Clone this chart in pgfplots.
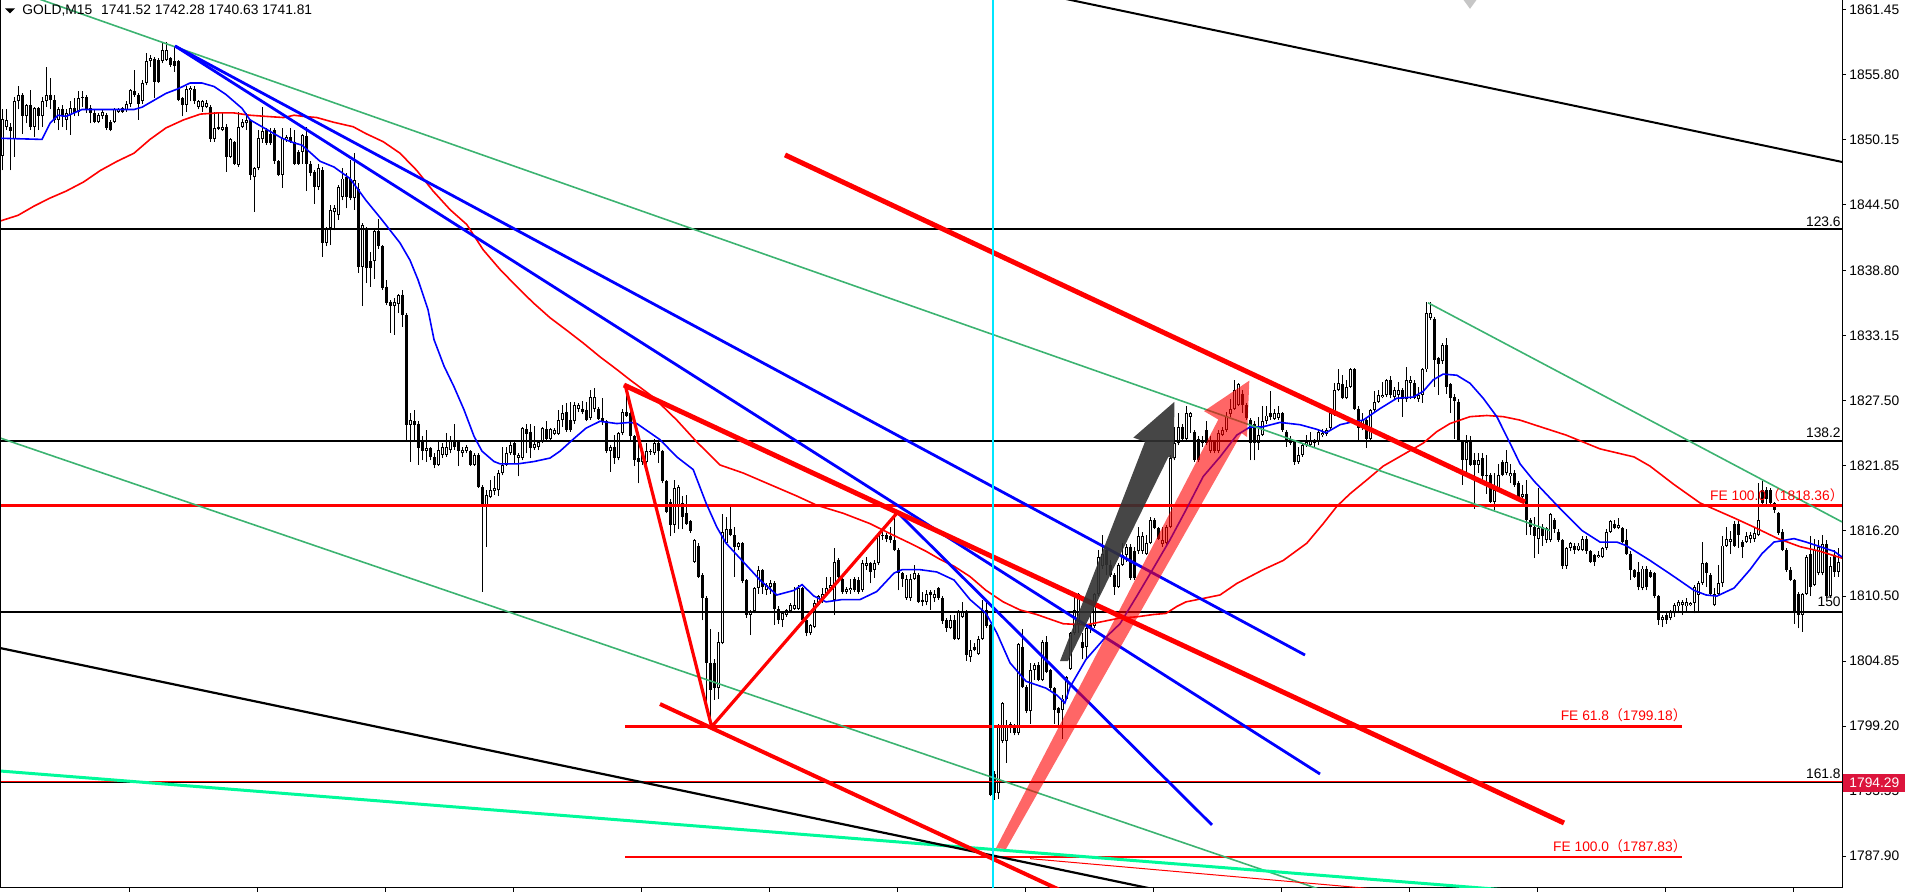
\documentclass[border=0pt]{standalone}
\usepackage{pgfplots}
\usepackage{pgfplotstable}
\pgfplotsset{compat=1.18}
\usepackage{fontspec}
\setmainfont{Liberation Sans}
\newfontfamily\cjk{Noto Sans CJK SC}
\definecolor{mtgreen}{RGB}{60,179,113}
\definecolor{mint}{RGB}{0,250,154}
\definecolor{crim}{RGB}{220,20,60}
\definecolor{arrgray}{RGB}{50,50,50}
\definecolor{mtcyan}{RGB}{0,230,255}
\newcommand{\mtf}{\fontsize{6.9}{8.3}\selectfont}
\newcommand{\lp}{{\cjk （}}
\newcommand{\rp}{{\cjk ）}}

\pgfplotstableread{
i o h l c
0 1848.8 1852.8 1847.5 1852.0
1 1851.3 1852.8 1851.0 1851.9
2 1851.3 1851.6 1847.5 1850.9
3 1850.2 1853.9 1848.7 1853.5
4 1853.5 1854.8 1852.8 1854.1
5 1854.1 1854.2 1850.7 1852.2
6 1852.2 1853.3 1851.6 1853.2
7 1853.2 1854.5 1851.0 1851.3
8 1851.3 1853.0 1850.4 1852.9
9 1852.9 1853.0 1851.0 1852.2
10 1852.2 1853.9 1851.3 1853.5
11 1853.5 1856.5 1853.0 1854.1
12 1854.1 1855.5 1852.8 1853.6
13 1853.6 1854.1 1851.6 1851.9
14 1851.9 1853.0 1851.0 1852.8
15 1852.8 1853.2 1851.3 1852.2
16 1851.9 1852.8 1851.0 1852.5
17 1852.3 1853.5 1850.6 1852.9
18 1852.9 1853.8 1852.2 1852.5
19 1852.6 1854.4 1852.2 1853.8
20 1853.8 1854.4 1853.0 1853.9
21 1853.9 1854.1 1852.5 1852.8
22 1852.9 1853.2 1851.6 1852.5
23 1852.5 1852.8 1851.6 1851.7
24 1851.7 1852.5 1851.6 1852.3
25 1852.2 1852.8 1852.0 1852.6
26 1852.3 1852.5 1851.0 1851.2
27 1851.7 1851.9 1850.9 1851.0
28 1851.7 1852.9 1851.6 1852.8
29 1852.6 1852.9 1852.5 1852.8
30 1852.9 1853.0 1852.5 1852.6
31 1852.8 1853.5 1852.6 1853.3
32 1853.3 1854.6 1853.0 1854.5
33 1854.4 1856.2 1853.9 1854.1
34 1854.1 1854.2 1851.9 1853.3
35 1853.5 1855.4 1853.3 1855.1
36 1855.1 1857.7 1854.9 1857.0
37 1857.0 1857.5 1856.5 1857.3
38 1857.2 1857.4 1853.8 1855.2
39 1857.1 1857.3 1855.1 1855.2
40 1857.0 1858.7 1856.8 1858.0
41 1857.1 1858.7 1857.0 1858.0
42 1857.3 1857.4 1856.5 1856.7
43 1857.0 1858.3 1856.1 1856.6
44 1857.0 1857.1 1853.5 1853.6
45 1853.8 1853.9 1852.2 1853.2
46 1853.2 1854.8 1852.6 1854.6
47 1854.5 1854.8 1853.5 1854.7
48 1854.6 1854.8 1853.3 1853.5
49 1853.0 1853.6 1852.8 1853.5
50 1853.0 1853.6 1852.6 1853.5
51 1853.0 1853.6 1852.9 1853.4
52 1853.0 1853.2 1850.0 1850.2
53 1850.2 1852.6 1850.0 1851.2
54 1851.3 1852.6 1851.0 1851.1
55 1851.0 1852.5 1850.9 1851.3
56 1851.3 1851.5 1847.4 1848.7
57 1848.7 1850.3 1848.6 1850.2
58 1850.0 1850.1 1848.0 1848.1
59 1848.0 1852.6 1847.8 1851.3
60 1851.3 1852.0 1851.2 1851.7
61 1851.6 1852.5 1851.0 1851.9
62 1851.9 1852.0 1846.7 1847.1
63 1846.9 1847.8 1843.9 1847.7
64 1847.7 1851.0 1847.5 1850.3
65 1850.2 1853.0 1849.9 1850.9
66 1851.0 1851.2 1849.7 1849.9
67 1850.7 1851.2 1849.7 1849.9
68 1851.0 1851.2 1848.1 1848.3
69 1848.3 1848.4 1847.0 1847.1
70 1847.1 1851.2 1846.0 1850.3
71 1850.2 1850.6 1850.0 1850.4
72 1850.4 1851.2 1849.9 1850.0
73 1850.0 1851.0 1848.0 1848.1
74 1849.1 1849.3 1848.0 1848.1
75 1849.1 1850.7 1848.1 1850.6
76 1850.5 1851.3 1845.7 1848.1
77 1848.1 1848.3 1847.0 1847.3
78 1847.4 1847.5 1844.6 1846.1
79 1846.1 1848.1 1845.8 1847.7
80 1847.5 1847.8 1840.0 1841.2
81 1841.2 1842.6 1840.9 1842.5
82 1842.5 1844.5 1841.0 1844.1
83 1843.9 1844.5 1842.3 1844.2
84 1843.6 1846.2 1843.2 1846.1
85 1845.2 1847.7 1844.9 1846.8
86 1846.9 1847.3 1844.2 1845.2
87 1846.8 1848.4 1844.9 1845.1
88 1845.1 1849.0 1844.1 1846.7
89 1845.9 1846.4 1838.6 1839.1
90 1839.1 1842.9 1835.7 1842.8
91 1842.3 1842.6 1837.7 1839.0
92 1839.6 1840.4 1837.4 1839.0
93 1839.6 1842.3 1838.1 1842.2
94 1842.2 1843.3 1840.7 1840.9
95 1840.9 1841.0 1837.1 1837.3
96 1837.4 1838.0 1835.8 1836.0
97 1836.1 1836.2 1833.4 1835.7
98 1835.7 1836.4 1833.2 1836.1
99 1835.9 1836.8 1835.1 1836.7
100 1836.7 1837.1 1833.9 1834.9
101 1834.9 1835.1 1824.1 1825.4
102 1825.4 1826.4 1822.2 1825.8
103 1825.7 1826.7 1824.1 1825.4
104 1825.5 1825.7 1821.9 1823.4
105 1824.0 1824.4 1822.3 1823.1
106 1823.1 1824.9 1822.2 1823.4
107 1823.4 1823.5 1822.3 1822.6
108 1822.6 1822.9 1821.6 1821.9
109 1821.9 1824.1 1821.8 1823.2
110 1822.8 1823.8 1822.5 1823.5
111 1822.8 1824.7 1822.6 1823.5
112 1823.2 1824.4 1822.9 1824.1
113 1823.9 1825.5 1823.2 1823.5
114 1823.9 1824.1 1821.8 1823.1
115 1822.9 1823.5 1822.6 1823.2
116 1823.1 1823.6 1822.9 1823.5
117 1823.1 1823.2 1821.8 1821.9
118 1821.9 1822.9 1821.8 1822.8
119 1822.8 1822.9 1819.9 1820.0
120 1820.0 1820.2 1810.9 1818.4
121 1818.4 1819.7 1814.8 1819.3
122 1819.1 1820.6 1819.0 1819.7
123 1819.6 1820.9 1819.3 1819.9
124 1819.7 1821.5 1819.2 1821.2
125 1821.2 1823.5 1821.0 1821.9
126 1821.9 1823.5 1821.8 1822.9
127 1822.9 1823.9 1822.8 1823.6
128 1823.8 1823.9 1822.0 1822.8
129 1822.5 1822.9 1820.9 1822.8
130 1822.5 1825.2 1822.3 1825.1
131 1825.0 1825.5 1822.9 1824.6
132 1824.8 1825.5 1822.5 1823.4
133 1823.4 1825.3 1823.2 1823.7
134 1823.5 1824.1 1823.2 1823.9
135 1823.9 1825.2 1823.8 1825.1
136 1825.0 1825.7 1823.9 1824.2
137 1824.2 1825.1 1823.9 1825.0
138 1824.6 1825.1 1824.5 1824.9
139 1824.6 1826.7 1824.5 1825.8
140 1825.8 1827.1 1825.2 1826.4
141 1826.5 1827.3 1824.8 1824.9
142 1825.8 1827.4 1824.8 1824.9
143 1825.7 1827.4 1825.5 1827.1
144 1826.8 1827.3 1826.5 1827.1
145 1826.8 1827.5 1826.3 1826.5
146 1826.7 1827.4 1825.7 1825.8
147 1826.0 1828.4 1825.8 1827.8
148 1826.8 1828.6 1826.5 1827.8
149 1826.8 1826.9 1825.8 1825.9
150 1826.0 1827.7 1825.4 1825.7
151 1825.7 1825.8 1822.9 1823.1
152 1823.1 1823.6 1821.3 1823.5
153 1823.5 1824.5 1822.0 1822.5
154 1822.5 1824.8 1822.3 1824.7
155 1824.7 1826.8 1824.5 1826.5
156 1826.5 1828.9 1826.1 1826.2
157 1826.4 1827.3 1824.1 1824.4
158 1824.4 1824.5 1821.8 1822.3
159 1822.5 1824.1 1820.3 1822.2
160 1822.2 1822.9 1821.9 1822.8
161 1822.2 1823.8 1821.9 1823.1
162 1823.0 1823.3 1822.8 1823.1
163 1822.9 1824.2 1822.8 1823.8
164 1823.8 1824.1 1822.1 1823.1
165 1823.1 1823.2 1820.3 1820.5
166 1820.5 1820.6 1817.7 1817.8
167 1818.7 1818.9 1815.7 1816.7
168 1816.7 1820.6 1816.0 1819.9
169 1818.3 1820.2 1816.3 1820.0
170 1818.6 1819.2 1816.3 1817.4
171 1817.7 1819.3 1816.7 1816.8
172 1817.0 1817.1 1816.0 1816.2
173 1813.5 1815.5 1813.4 1815.4
174 1814.9 1815.1 1812.1 1812.2
175 1812.3 1812.5 1808.4 1810.3
176 1810.3 1810.5 1800.5 1804.7
177 1804.7 1807.6 1799.2 1802.3
178 1804.7 1805.0 1801.5 1802.5
179 1802.5 1807.4 1801.6 1806.5
180 1806.4 1817.6 1806.3 1816.1
181 1815.1 1817.4 1815.0 1816.3
182 1816.3 1818.4 1815.7 1815.8
183 1815.8 1816.5 1812.2 1814.8
184 1814.8 1815.2 1814.5 1815.1
185 1815.1 1815.2 1811.6 1811.8
186 1811.9 1812.0 1808.6 1808.9
187 1808.9 1809.3 1807.1 1809.2
188 1809.2 1811.3 1809.0 1811.2
189 1811.2 1813.1 1810.7 1812.8
190 1812.8 1812.9 1810.7 1811.3
191 1811.0 1811.6 1810.6 1811.5
192 1811.3 1811.9 1810.7 1811.6
193 1811.6 1811.8 1808.0 1809.4
194 1809.4 1809.6 1808.1 1808.4
195 1808.4 1809.2 1807.8 1809.0
196 1808.9 1809.4 1808.7 1809.3
197 1809.2 1809.9 1809.0 1809.7
198 1809.4 1811.3 1809.3 1809.7
199 1809.4 1811.5 1809.3 1811.2
200 1811.2 1811.3 1808.3 1808.4
201 1808.4 1808.6 1807.0 1807.3
202 1807.3 1808.1 1807.1 1808.0
203 1807.8 1810.2 1807.7 1809.9
204 1809.7 1810.6 1809.6 1810.5
205 1810.2 1811.2 1809.9 1810.7
206 1810.7 1812.2 1810.5 1811.2
207 1811.2 1812.2 1811.0 1811.5
208 1810.2 1814.7 1808.9 1813.5
209 1813.6 1813.8 1811.6 1812.2
210 1812.0 1812.2 1810.7 1810.9
211 1810.9 1811.3 1810.7 1811.1
212 1811.0 1812.0 1810.7 1811.2
213 1812.0 1812.2 1810.9 1811.0
214 1811.9 1812.2 1810.7 1810.9
215 1811.0 1813.6 1810.9 1813.4
216 1813.1 1813.9 1812.8 1813.4
217 1813.4 1813.5 1811.6 1812.6
218 1812.8 1813.6 1812.1 1813.4
219 1813.4 1816.1 1813.2 1815.8
220 1815.7 1816.4 1815.4 1815.8
221 1815.8 1816.0 1815.2 1815.5
222 1815.7 1816.5 1815.1 1815.4
223 1815.4 1817.7 1814.4 1814.5
224 1814.5 1814.7 1811.0 1812.5
225 1812.5 1812.6 1811.3 1812.0
226 1810.3 1812.3 1810.2 1812.0
227 1810.3 1812.4 1810.1 1812.0
228 1812.0 1813.2 1811.9 1812.5
229 1812.3 1812.5 1809.9 1810.0
230 1810.2 1810.9 1809.6 1810.0
231 1810.0 1811.0 1809.7 1810.7
232 1810.9 1811.0 1809.3 1810.6
233 1810.3 1811.0 1810.0 1810.7
234 1811.2 1811.3 1810.2 1810.3
235 1810.3 1810.5 1808.1 1808.3
236 1808.4 1808.6 1807.4 1807.7
237 1807.7 1808.9 1807.6 1808.4
238 1808.4 1808.9 1806.7 1806.8
239 1806.8 1809.3 1806.7 1809.2
240 1808.7 1810.0 1808.6 1809.2
241 1809.2 1809.3 1804.9 1805.4
242 1805.2 1806.7 1804.8 1805.8
243 1806.1 1806.4 1805.7 1805.8
244 1805.5 1807.0 1805.4 1806.8
245 1806.8 1810.2 1806.7 1809.3
246 1809.3 1810.0 1807.7 1807.9
247 1808.0 1808.1 1793.1 1793.2
248 1795.0 1795.3 1792.8 1793.4
249 1793.4 1799.4 1792.9 1799.2
250 1797.9 1801.3 1797.7 1801.2
251 1797.9 1799.7 1796.0 1799.3
252 1799.0 1799.6 1798.6 1799.4
253 1799.1 1799.4 1798.4 1798.6
254 1798.6 1806.4 1798.4 1806.3
255 1806.1 1807.6 1802.5 1802.6
256 1802.6 1802.8 1800.3 1800.5
257 1800.5 1804.7 1799.4 1804.1
258 1804.1 1804.7 1803.2 1804.5
259 1804.5 1804.8 1803.1 1803.2
260 1803.2 1806.7 1803.1 1806.5
261 1806.5 1807.0 1803.8 1803.9
262 1804.1 1804.2 1802.3 1802.5
263 1802.5 1802.6 1799.4 1800.6
264 1800.8 1800.9 1799.3 1800.3
265 1800.6 1801.9 1798.1 1801.6
266 1801.6 1803.6 1801.5 1803.5
267 1804.2 1807.4 1804.1 1807.3
268 1807.3 1810.6 1807.1 1809.3
269 1808.1 1810.8 1807.3 1810.7
270 1806.5 1807.3 1805.0 1806.0
271 1806.1 1807.9 1805.0 1807.7
272 1808.1 1809.0 1807.3 1807.7
273 1807.9 1810.8 1807.7 1810.7
274 1810.7 1814.5 1810.5 1813.9
275 1813.1 1815.8 1812.9 1814.2
276 1814.5 1814.7 1812.3 1813.2
277 1813.2 1813.6 1812.2 1812.3
278 1812.3 1812.5 1810.6 1811.3
279 1811.3 1813.4 1811.2 1813.2
280 1813.2 1815.1 1813.1 1814.1
281 1814.1 1815.0 1813.5 1814.8
282 1814.8 1815.0 1811.9 1812.1
283 1814.4 1814.8 1811.9 1812.1
284 1814.4 1816.5 1814.2 1815.7
285 1814.4 1816.1 1814.2 1815.7
286 1814.2 1815.8 1814.1 1815.1
287 1815.1 1817.4 1815.0 1817.1
288 1817.1 1817.3 1816.3 1816.4
289 1816.4 1816.5 1815.4 1815.5
290 1815.0 1816.5 1814.8 1815.4
291 1815.1 1816.7 1814.9 1816.5
292 1816.5 1822.8 1816.4 1822.5
293 1822.5 1825.2 1822.3 1823.8
294 1823.8 1826.4 1823.6 1825.2
295 1825.2 1825.5 1824.1 1824.2
296 1824.2 1827.0 1824.1 1826.4
297 1826.1 1826.5 1824.7 1826.4
298 1824.8 1824.9 1822.2 1822.3
299 1824.2 1824.4 1822.2 1822.3
300 1823.8 1824.4 1823.5 1824.1
301 1824.9 1825.7 1823.6 1823.8
302 1823.1 1824.4 1822.9 1824.1
303 1823.9 1824.1 1822.9 1823.1
304 1823.1 1824.9 1822.9 1824.7
305 1824.5 1825.2 1824.4 1824.9
306 1824.9 1826.5 1824.8 1826.2
307 1826.3 1827.6 1826.1 1826.8
308 1826.8 1829.3 1826.7 1828.4
309 1827.1 1829.0 1827.0 1828.9
310 1828.1 1828.4 1826.4 1827.1
311 1827.1 1827.3 1825.8 1826.0
312 1825.8 1826.0 1822.3 1823.8
313 1825.5 1825.7 1822.3 1823.8
314 1823.8 1826.1 1823.2 1824.5
315 1824.5 1827.0 1824.4 1825.7
316 1825.7 1827.0 1825.5 1826.2
317 1826.4 1828.3 1825.8 1826.1
318 1825.9 1826.8 1825.8 1826.4
319 1826.0 1827.0 1825.8 1826.4
320 1826.4 1826.5 1824.8 1824.9
321 1824.8 1824.9 1823.5 1824.1
322 1824.2 1824.4 1823.6 1823.8
323 1823.9 1824.1 1821.9 1822.2
324 1822.2 1823.5 1822.0 1822.8
325 1822.8 1823.8 1822.6 1823.6
326 1823.6 1824.5 1823.5 1823.9
327 1823.6 1824.8 1823.5 1824.1
328 1824.1 1824.2 1823.5 1823.8
329 1823.9 1824.9 1823.6 1824.8
330 1824.5 1825.0 1824.3 1824.7
331 1824.6 1825.1 1824.4 1824.9
332 1825.1 1826.7 1824.9 1826.4
333 1826.4 1829.0 1826.2 1828.4
334 1828.4 1830.2 1828.3 1829.0
335 1828.9 1829.7 1827.6 1827.7
336 1827.7 1829.3 1827.6 1828.7
337 1828.7 1830.3 1828.6 1830.2
338 1830.2 1830.3 1826.7 1826.8
339 1826.8 1827.0 1824.1 1825.1
340 1825.1 1826.4 1824.9 1825.8
341 1825.8 1826.1 1823.4 1824.2
342 1824.2 1826.8 1824.1 1826.7
343 1826.7 1828.3 1826.5 1827.4
344 1827.4 1828.4 1827.3 1828.0
345 1827.8 1829.1 1827.7 1828.0
346 1828.0 1829.4 1827.8 1829.3
347 1829.3 1829.6 1827.7 1828.0
348 1827.8 1828.7 1827.6 1828.4
349 1828.0 1829.1 1827.4 1828.4
350 1828.4 1828.6 1826.1 1827.6
351 1827.6 1830.4 1827.4 1829.3
352 1829.0 1829.6 1827.6 1829.3
353 1829.0 1829.3 1827.6 1827.7
354 1827.6 1828.7 1827.4 1828.0
355 1828.0 1830.3 1827.3 1830.2
356 1830.2 1836.1 1830.0 1835.1
357 1834.7 1836.1 1834.5 1835.1
358 1834.6 1834.8 1828.7 1831.0
359 1831.2 1831.3 1828.0 1830.7
360 1830.9 1832.5 1830.7 1832.3
361 1832.3 1832.9 1828.1 1828.7
362 1828.9 1829.0 1826.4 1827.7
363 1827.8 1828.1 1824.2 1827.5
364 1827.4 1827.6 1823.9 1824.1
365 1823.9 1824.1 1820.2 1822.3
366 1822.3 1824.5 1820.9 1823.9
367 1823.9 1824.4 1821.8 1821.9
368 1822.3 1822.9 1818.1 1821.9
369 1821.9 1822.9 1821.2 1822.3
370 1822.5 1822.9 1820.6 1820.9
371 1820.9 1822.8 1819.4 1821.0
372 1821.0 1821.2 1818.6 1818.7
373 1818.7 1821.2 1818.0 1819.7
374 1819.7 1822.0 1819.6 1821.0
375 1822.2 1822.3 1820.9 1821.0
376 1821.2 1823.2 1821.0 1822.2
377 1820.9 1822.0 1820.3 1821.2
378 1821.2 1821.5 1820.0 1820.2
379 1820.3 1820.5 1819.0 1819.1
380 1819.1 1820.2 1818.9 1819.4
381 1819.4 1820.6 1815.8 1817.1
382 1817.1 1817.3 1815.8 1816.5
383 1816.5 1817.4 1813.8 1815.7
384 1815.5 1819.9 1814.2 1816.4
385 1816.5 1816.8 1814.9 1815.7
386 1815.4 1816.5 1815.1 1816.4
387 1815.4 1817.7 1815.2 1817.6
388 1817.1 1817.3 1816.0 1816.3
389 1816.1 1816.3 1815.2 1815.4
390 1815.4 1815.5 1812.9 1813.1
391 1813.1 1814.8 1812.9 1814.7
392 1814.7 1815.2 1814.4 1815.1
393 1814.9 1815.1 1814.2 1814.5
394 1814.5 1815.1 1814.4 1814.9
395 1814.5 1815.7 1814.4 1815.5
396 1815.5 1815.7 1814.2 1814.4
397 1814.4 1814.5 1813.4 1813.5
398 1814.1 1814.2 1813.1 1813.5
399 1813.9 1814.4 1813.8 1814.1
400 1813.9 1814.8 1813.8 1814.7
401 1814.7 1816.3 1814.5 1816.1
402 1816.1 1817.1 1816.0 1817.0
403 1816.8 1817.1 1816.3 1816.4
404 1816.4 1817.3 1816.3 1816.7
405 1816.4 1816.5 1815.1 1815.2
406 1815.4 1816.3 1814.1 1814.2
407 1814.2 1814.4 1811.9 1812.8
408 1812.8 1812.9 1812.1 1812.2
409 1812.6 1813.5 1811.0 1811.3
410 1811.2 1813.1 1811.0 1812.9
411 1812.9 1813.1 1811.0 1811.3
412 1812.6 1812.8 1812.1 1812.2
413 1812.5 1812.6 1810.3 1810.5
414 1810.5 1810.6 1808.0 1808.4
415 1808.4 1808.9 1807.8 1808.7
416 1808.9 1809.0 1808.1 1808.4
417 1808.6 1809.3 1808.4 1809.2
418 1809.0 1809.9 1808.7 1809.7
419 1809.6 1810.2 1809.0 1810.0
420 1809.7 1810.2 1808.9 1810.0
421 1809.6 1810.3 1809.2 1810.0
422 1809.7 1810.0 1809.6 1809.9
423 1809.9 1811.5 1809.0 1811.3
424 1810.6 1811.8 1809.2 1811.6
425 1811.6 1815.2 1811.5 1813.4
426 1813.4 1813.5 1811.3 1812.5
427 1812.3 1812.5 1810.6 1810.7
428 1809.7 1811.2 1809.6 1810.7
429 1810.7 1813.2 1810.6 1811.6
430 1811.6 1815.7 1811.3 1814.9
431 1814.9 1816.5 1814.8 1815.5
432 1815.2 1816.2 1814.2 1815.5
433 1816.8 1817.0 1814.8 1814.9
434 1816.8 1817.0 1814.7 1815.8
435 1815.2 1815.4 1813.8 1814.8
436 1815.2 1816.1 1815.1 1815.7
437 1815.5 1816.1 1815.1 1815.8
438 1815.5 1816.5 1815.2 1816.0
439 1815.8 1820.3 1815.7 1817.1
440 1819.7 1820.5 1818.4 1818.6
441 1819.7 1820.0 1818.4 1818.9
442 1819.7 1819.9 1818.3 1818.6
443 1818.6 1818.7 1817.7 1818.0
444 1817.7 1817.8 1815.8 1816.0
445 1816.1 1816.3 1814.4 1814.5
446 1814.5 1814.7 1812.6 1812.8
447 1812.8 1813.0 1811.8 1811.9
448 1811.9 1812.0 1808.1 1809.0
449 1810.7 1810.9 1807.7 1808.9
450 1808.9 1810.8 1807.4 1810.7
451 1810.7 1814.1 1810.6 1813.9
452 1814.2 1815.7 1810.5 1811.3
453 1811.5 1815.5 1811.4 1814.5
454 1812.5 1815.4 1812.3 1814.8
455 1812.5 1815.8 1812.3 1815.0
456 1815.0 1815.4 1810.3 1810.5
457 1810.5 1813.9 1810.3 1813.1
458 1814.1 1814.5 1812.2 1812.6
459 1812.6 1814.7 1812.2 1813.5
}\candles

\begin{document}
\begin{tikzpicture}
\useasboundingbox (0,0) rectangle (958pt,446pt);
\begin{axis}[
  at={(0pt,2pt)}, anchor=south west,
  scale only axis, width=921pt, height=444pt,
  xmin=-0.5, xmax=460, ymin=1785.13, ymax=1862.32,
  axis x line*=bottom, axis y line*=right,
  axis line style={-, line width=0.5pt, black},
  xtick={31.75,63.75,95.75,127.75,159.75,191.75,223.75,255.75,287.75,319.75,351.75,383.75,415.75,447.75},
  xticklabels={},
  ytick={1861.45,1855.80,1850.15,1844.50,1838.80,1833.15,1827.50,1821.85,1816.20,1810.50,1804.85,1799.20,1793.55,1787.90},
  yticklabels={1861.45,1855.80,1850.15,1844.50,1838.80,1833.15,1827.50,1821.85,1816.20,1810.50,1804.85,1799.20,1793.55,1787.90},
  tick align=outside, major tick length=2pt,
  tick style={black, line width=0.5pt},
  yticklabel style={font=\mtf, anchor=west, inner sep=0pt, xshift=1.5pt},
]
% candles
\addplot[black, line width=0.5pt, -, quiver={u=0,v={\thisrow{h}-\thisrow{l}}}] table[x=i, y=l] {\candles};
\addplot[black, line width=1.5pt, -, quiver={u=0,v={\thisrow{c}-\thisrow{o}}}] table[x=i, y=o] {\candles};
\addplot[white, line width=0.5pt, -, quiver={u=0,v={max(\thisrow{c}-\thisrow{o}-0.17,0)}}] table[x=i, y expr=\thisrow{o}+0.085] {\candles};

% horizontal levels
\addplot[black, line width=1pt] coordinates {(-0.5,1842.41) (460,1842.41)};
\addplot[black, line width=1pt] coordinates {(-0.5,1823.98) (460,1823.98)};
\addplot[black, line width=1pt] coordinates {(-0.5,1809.15) (460,1809.15)};
\addplot[black, line width=0.6pt] coordinates {(-0.5,1794.30) (460,1794.30)};
\addplot[red, line width=0.5pt] coordinates {(-0.5,1794.39) (460,1794.39)};
\addplot[red, line width=1.5pt] coordinates {(-0.5,1818.36) (460,1818.36)};
\addplot[red, line width=1.4pt] coordinates {(155.75,1799.18) (420,1799.18)};
\addplot[red, line width=1.4pt] coordinates {(155.75,1787.83) (420,1787.83)};

% moving averages
\addplot[red, line width=0.8pt] coordinates {(-0.5,1843.1) (4,1843.6) (8,1844.4) (12,1845.1) (16,1845.7) (20.4,1846.5) (24.6,1847.5) (28.8,1848.3) (33,1849.0) (37,1850.2) (41,1851.2) (45.4,1851.9) (49.6,1852.4) (53.8,1852.5) (58,1852.5) (62,1852.3) (66,1852.2) (70.4,1852.1) (73,1852.3) (75.4,1852.2) (78.7,1852.1) (82.8,1851.7) (87.8,1851.3) (91,1850.7) (95.3,1850.0) (99.5,1849.0) (103.7,1847.5) (107.8,1845.7) (112,1844.1) (116.2,1842.8) (120.3,1840.6) (124.5,1838.9) (128.7,1837.4) (132.8,1836.0) (137,1834.7) (141.2,1833.6) (145.3,1832.5) (149.5,1831.3) (153.7,1830.2) (157,1829.3) (162.8,1827.8) (168.7,1825.8) (173.7,1823.9) (179.5,1821.9) (185.3,1821.2) (192,1820.2) (198.7,1819.2) (203.7,1818.4) (210.3,1817.7) (217,1816.8) (222.8,1815.8) (227,1815.1) (231,1814.4) (234.5,1813.7) (238,1813.1) (242,1812.2) (246,1811.0) (250.3,1810.0) (254.5,1809.3) (258.7,1808.9) (262.8,1808.4) (265.3,1808.1) (271,1808.0) (275.3,1808.3) (279.5,1808.6) (283.7,1808.7) (287.8,1808.9) (291,1809.0) (293.7,1809.6) (296,1810.0) (300.3,1810.3) (304.5,1810.6) (308.7,1811.6) (312,1812.2) (315.3,1812.8) (320.3,1813.6) (326.2,1815.1) (330.3,1816.8) (333.7,1818.3) (337,1819.4) (341.2,1820.6) (345.3,1821.8) (350.3,1822.8) (355.3,1823.8) (358.7,1824.8) (362,1825.5) (367,1826.1) (371.2,1826.2) (375.3,1826.1) (379.5,1825.8) (383,1825.4) (391,1824.5) (399.5,1823.3) (408,1822.6) (412,1821.8) (418,1820.2) (424.5,1818.6) (433,1817.3) (438,1816.5) (444,1815.5) (449.5,1814.8) (454.5,1814.4) (460,1813.8)};
\addplot[blue, line width=0.8pt] coordinates {(-0.5,1850.3) (10,1850.2) (12,1851.6) (14,1852.3) (16,1852.2) (20,1852.8) (25,1852.8) (33,1852.8) (35,1853.0) (38,1853.6) (41,1854.2) (44,1854.6) (47,1855.1) (50,1855.1) (53,1854.8) (56,1854.1) (60,1852.9) (62,1851.9) (65,1851.3) (68,1850.7) (70,1850.3) (73,1849.9) (75,1849.7) (79.5,1848.3) (83,1847.8) (87,1846.8) (91,1844.9) (95,1843.2) (99.5,1841.2) (102,1839.7) (104,1838.0) (106.5,1835.4) (108,1832.8) (110.5,1830.5) (113,1828.7) (115.5,1826.7) (118,1824.4) (120,1823.1) (123,1822.2) (124.5,1822.0) (129,1822.0) (133,1822.2) (137,1822.5) (139.5,1823.1) (143,1824.2) (146,1825.1) (149.5,1825.7) (153.7,1825.5) (157,1825.6) (158.7,1825.5) (164.5,1824.1) (168.7,1822.6) (172.8,1821.5) (176,1818.6) (178.7,1816.5) (181,1815.1) (185,1813.6) (189.5,1811.9) (193.7,1810.6) (198,1811.0) (200,1811.5) (203,1810.5) (206,1810.0) (210,1810.2) (214.5,1810.2) (218.7,1810.9) (223,1812.5) (225,1812.8) (229.5,1812.8) (233.7,1812.6) (238,1811.9) (242,1810.2) (246,1809.0) (248.7,1807.3) (252,1804.7) (256,1803.1) (261,1802.5) (263.7,1801.9) (265.7,1801.2) (267,1802.6) (271,1805.0) (275.3,1806.7) (279.5,1808.1) (283.7,1810.5) (287.8,1812.9) (292,1815.4) (296,1818.0) (300.3,1820.9) (304.5,1822.6) (308.7,1824.5) (312,1825.2) (315,1825.2) (319.5,1825.6) (324.5,1825.4) (328.7,1825.0) (331,1824.7) (334.5,1825.4) (337,1825.6) (340.3,1825.8) (344.5,1826.8) (348.7,1827.7) (352.8,1827.8) (355.3,1828.3) (357.8,1829.3) (360.3,1829.8) (363.7,1829.7) (367,1829.0) (370.3,1827.7) (373.7,1826.1) (377,1823.8) (379.5,1822.0) (383,1820.5) (389,1818.3) (395,1816.2) (399.5,1815.2) (403.7,1815.2) (406,1814.9) (412,1813.6) (418,1812.2) (423,1811.0) (426,1810.6) (428.7,1810.5) (433,1811.2) (437,1812.8) (440,1814.2) (443,1815.2) (448,1815.5) (451,1815.2) (454.5,1814.8) (458,1814.4) (460,1813.9)};

% channels and trend lines
\addplot[mtgreen, line width=0.8pt] coordinates {(-0.5,1863.6) (387,1816.2)};
\addplot[mtgreen, line width=0.8pt] coordinates {(356.5,1836.0) (460,1816.95)};
\addplot[mtgreen, line width=0.8pt] coordinates {(-0.5,1824.25) (335,1784.35)};
\addplot[mint, line width=1.5pt] coordinates {(-0.5,1795.30) (400,1784.30)};
\addplot[black, line width=1pt] coordinates {(260,1862.84) (460,1848.24)};
\addplot[black, line width=1.1pt] coordinates {(-0.5,1805.99) (300,1784.15)};
\addplot[red, line width=0.5pt] coordinates {(257,1787.68) (360,1784.53)};
\addplot[blue, line width=1.4pt] coordinates {(43.25,1858.32) (325.75,1805.38)};
\addplot[blue, line width=1.4pt] coordinates {(43.25,1858.32) (329.5,1795.04)};
\addplot[blue, line width=1.4pt] coordinates {(224,1817.73) (302.5,1790.61)};
\addplot[red, line width=2.5pt] coordinates {(195.75,1848.85) (380.75,1818.68)};
\addplot[red, line width=2.5pt] coordinates {(155.5,1828.85) (390.5,1790.78)};
\addplot[red, line width=2pt] coordinates {(164.5,1801.12) (275,1783.25)};
\addplot[red, line width=1.6pt] coordinates {(155.75,1828.9) (177.4,1799.15) (223.7,1817.7)};
\addplot[mtcyan, line width=1pt] coordinates {(247.75,1785.13) (247.75,1862.32)};

% arrows
\addplot[fill=arrgray, draw=none, fill opacity=0.9] coordinates {(264.5,1804.86) (285.75,1823.92) (282.83,1824.28) (293.08,1827.38) (293.0,1822.46) (291.58,1822.60) (266.5,1804.86)} --cycle;
\addplot[fill=red, draw=none, fill opacity=0.6] coordinates {(248.5,1788.61) (304.08,1825.85) (300.5,1826.58) (311.83,1829.23) (311.25,1824.33) (309.93,1824.66) (251.0,1788.52)} --cycle;
\addplot[fill=gray!45, draw=none] coordinates {(365,1862.5) (369,1862.5) (367,1861.55)} --cycle;

% title
\addplot[fill=black, draw=none] coordinates {(0.75,1861.60) (3.25,1861.60) (2,1861.16)} --cycle;
\node[anchor=base west, inner sep=0pt, font=\mtf] at (axis cs:5,1861.02) {GOLD,M15\hspace{4.5pt}1741.52 1742.28 1740.63 1741.81};

% level labels
\node[anchor=base east, inner sep=0pt, font=\mtf] at (axis cs:459.75,1842.67) {123.6};
\node[anchor=base east, inner sep=0pt, font=\mtf] at (axis cs:459.75,1824.25) {138.2};
\node[anchor=base east, inner sep=0pt, font=\mtf] at (axis cs:459.75,1809.58) {150};
\node[anchor=base east, inner sep=0pt, font=\mtf] at (axis cs:459.75,1794.67) {161.8};
\node[anchor=base east, inner sep=0pt, font=\mtf, text=red] at (axis cs:460.5,1818.77) {FE 100.0\lp 1818.36\rp};
\node[anchor=base east, inner sep=0pt, font=\mtf, text=red] at (axis cs:421.25,1799.73) {FE 61.8\lp 1799.18\rp};
\node[anchor=base east, inner sep=0pt, font=\mtf, text=red] at (axis cs:421.25,1788.29) {FE 100.0\lp 1787.83\rp};
\coordinate (pbox) at (axis cs:460,1794.25);
\end{axis}
\node[fill=crim, text=white, anchor=west, font=\mtf, inner xsep=3pt, inner ysep=0pt, minimum height=9pt, xshift=0.5pt] at (pbox) {1794.29};
\draw[black, line width=0.5pt] (0.25pt,2pt) -- (0.25pt,446pt);
\end{tikzpicture}
\end{document}
